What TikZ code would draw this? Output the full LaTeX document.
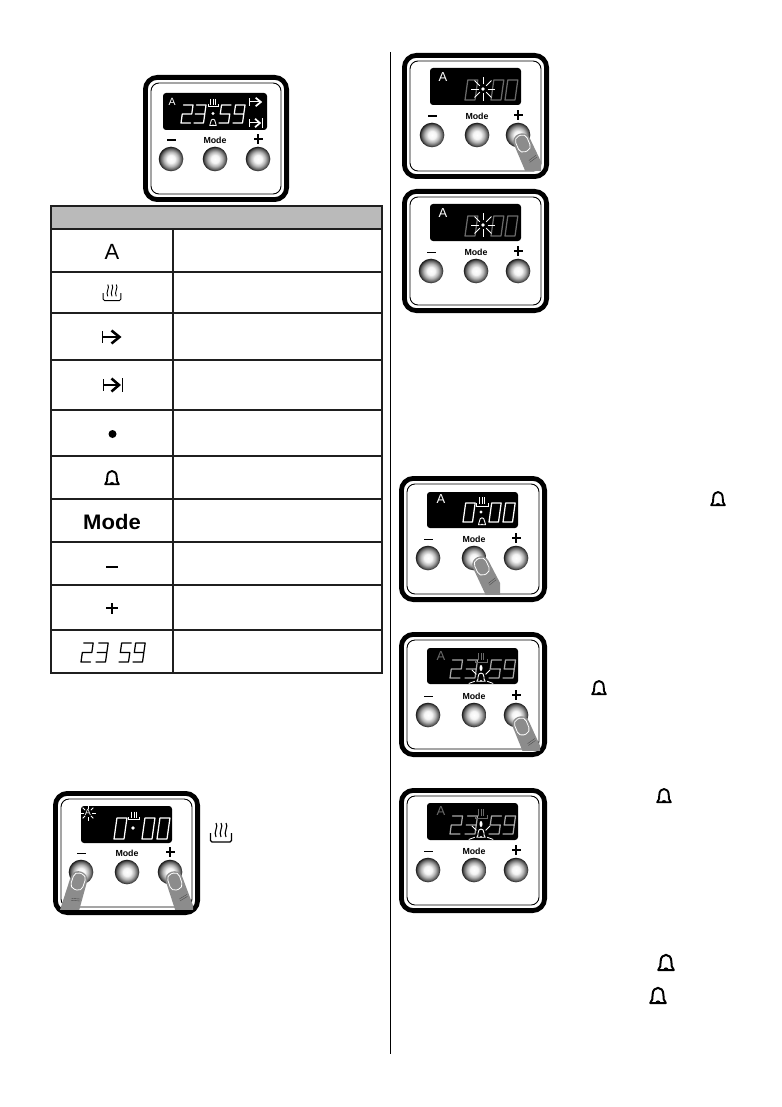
\documentclass[tikz,border=0pt]{standalone}
\usepackage{fontspec}
\setmainfont{Liberation Sans}
\pgfdeclareradialshading{btnshade}{\pgfpoint{0bp}{0bp}}{color(0bp)=(white); color(8bp)=(white!96!black); color(15bp)=(black!30); color(21bp)=(black!62); color(25bp)=(black!90); color(50bp)=(black!90)}
\definecolor{fingergray}{HTML}{8C8C8C}
\definecolor{dimseg}{HTML}{6A6A6A}
\definecolor{midseg}{HTML}{A8A8A8}
\tikzset{
  x=1pt,y=-1pt,
  outerframe/.style={draw=black,line width=4.8pt,rounded corners=12pt,fill=white},
  innerframe/.style={draw=black,line width=0.9pt,rounded corners=8pt},
  lcd/.style={fill=black,rounded corners=3pt},
  btnkey/.style={shading=btnshade},
  seg/.style={line width=1.25pt,line join=round,line cap=round},
  rule/.style={draw=black!88,line width=1.2pt},
  ray/.style={draw=white,line width=0.8pt},
}
% digit: [colour]{x}{y bottom}{w}{h}{digit}
\newcommand\dg[6][white]{%
  \ifcase#6 \def\dgp{(0,0)--(1,0)--(1,1)--(0,1)--cycle}\or\or
  \def\dgp{(0,1)--(1,1)--(1,.5)--(0,.5)--(0,0)--(1,0)}\or
  \def\dgp{(0,1)--(1,1)--(1,0)--(0,0) (0,.5)--(1,.5)}\or\or
  \def\dgp{(1,1)--(0,1)--(0,.5)--(1,.5)--(1,0)--(0,0)}\or\or\or\or
  \def\dgp{(1,.5)--(0,.5)--(0,1)--(1,1)--(1,0)--(0,0)}\fi
  \draw[seg,draw=#1,shift={(#2,#3)},x={(#4pt,0pt)},y={(#5*0.14pt,#5pt)}] \dgp;}
% bell: {x}{y}{scale}{colour}{line width}
\newcommand\bellicon[5]{%
  \begin{scope}[shift={(#1,#2)},scale=#3]
  \draw[#4,line width=#5pt,line join=round] (-6.5,5) .. controls (-4.5,3) and (-4.5,1) .. (-4.5,-2) .. controls (-4.5,-9.5) and (4.5,-9.5) .. (4.5,-2) .. controls (4.5,1) and (4.5,3) .. (6.5,5) -- cycle;
  \fill[#4] (-2.2,5) arc[start angle=180,end angle=360,radius=2.2];
  \end{scope}}
% heating symbol, wavy: {x}{y}{scale}{line width}
\newcommand\heatwave[4]{%
  \begin{scope}[shift={(#1,#2)},scale=#3,line width=#4pt]
  \draw[rounded corners=1.5pt] (-10.5,0) -- (-10.5,9) -- (10.5,9) -- (10.5,0);
  \foreach \wx in {-5,0,5}{\draw (\wx,-10) .. controls (\wx+3,-6.5) and (\wx-3,-1) .. (\wx,4);}
  \end{scope}}
% heating symbol on a display: {x}{y}{scale}{colour}
\newcommand\heatbars[4]{%
  \begin{scope}[shift={(#1,#2)},scale=#3,#4,line width=0.8pt]
  \draw (-6,0) -- (-6,3) -- (6,3) -- (6,0);
  \foreach \wx in {-2.5,0,2.5}{\draw (\wx,-6) -- (\wx,1);}
  \end{scope}}
% arrows: {x}{y}{scale}{colour}{line width}
\newcommand\arrowbegin[5]{%
  \begin{scope}[shift={(#1,#2)},scale=#3,#4,line width=#5pt]
  \draw (-9.5,-6) -- (-9.5,6);
  \draw (-9.5,0) -- (6,0);
  \draw[line width=1.7*#5pt,miter limit=3] (-0.5,-6.5) -- (7.5,0) -- (-0.5,6.5);
  \end{scope}}
\newcommand\arrowstop[5]{%
  \begin{scope}[shift={(#1,#2)},scale=#3,#4,line width=#5pt]
  \draw (-9.5,-6) -- (-9.5,6);
  \draw (-9.5,0) -- (6,0);
  \draw[line width=1.7*#5pt] (-1.5,-6.5) -- (6,0) -- (-1.5,6.5);
  \draw (9.5,-7) -- (9.5,7);
  \end{scope}}
% control panel parts
\newcommand\frameparts[4]{%
  \draw[outerframe] (#1+2.4,#2+2.4) rectangle (#3-2.4,#4-2.4);
  \draw[innerframe] (#1+8,#2+8) rectangle (#3-8,#4-8);}
\newcommand\lcdbox[4]{\fill[lcd] (#1,#2) rectangle (#3,#4);}
\newcommand\keys[4]{%
  \foreach \kx in {#1,#2,#3}{\shade[btnkey] (\kx,#4) circle[radius=12.3];}
  \node[font=\bfseries\fontsize{8.8}{9}\selectfont,inner sep=0pt] at (#2,#4-19) {Mode};
  \fill (#1-4.5,#4-19.5) rectangle (#1+4.5,#4-17.8);
  \fill (#3-4.5,#4-21) rectangle (#3+4.5,#4-19.2);
  \fill (#3-0.9,#4-24.8) rectangle (#3+0.9,#4-15.4);}
\newcommand\letterA[4]{\node[text=#4,inner sep=0pt,font=\fontsize{#3}{#3}\selectfont] at (#1,#2) {A};}
% fingertip pressing: {nail x}{nail y}{rotation}{bottom of clip}
\newcommand\finger[4]{%
  \begin{scope}
  \clip (#1-18,#2-40) rectangle (#1+18,#4);
  \begin{scope}[shift={(#1,#2)},rotate=#3]
  \fill[fingergray] (-8.5,-3) .. controls (-8.5,-13.5) and (8,-13.5) .. (8.5,-3) -- (10.5,42) -- (-8.5,42) -- cycle;
  \draw[white,line width=0.8pt,fill=fingergray,rounded corners=5pt] (-6.2,-9) rectangle (6.2,8);
  \draw[black!70,line width=0.4pt] (-1,17.5) -- (7.5,15.5) (-1,19.5) -- (7.5,17.5);
  \end{scope}
  \end{scope}}
\newcommand\rays[5]{\foreach \ra in {#5}{\draw[ray] (#1,#2)+(\ra:#3) -- +(\ra:#4);}}
\begin{document}
\begin{tikzpicture}
\useasboundingbox (0,0) rectangle (781,1107);
\fill[white] (0,0) rectangle (781,1107);
% divider
\draw[black,line width=1pt] (390.5,52) -- (390.5,1054);
% ---------- panel 1
\frameparts{143}{75}{289}{202}
\lcdbox{163}{93}{267}{130}
\keys{171}{215}{258}{159}
\letterA{172}{102}{10.5}{white}
\dg{181}{123}{9.5}{18}{2}\dg{194}{123}{9.5}{18}{3}
\dg{219}{123}{9.5}{18}{5}\dg{233}{123}{9.5}{18}{9}
\heatbars{213}{104}{0.85}{white}
\fill[white] (213,113.5) circle[radius=1.6];
\bellicon{213}{123}{0.5}{white}{0.8}
\arrowbegin{256}{102}{0.65}{white}{1}
\arrowstop{256}{123}{0.65}{white}{1}
% ---------- table
\fill[black!27] (51,206) rectangle (382,229);
\draw[rule] (51,206) rectangle (382,673);
\foreach \ry in {229,272,313,360,410,456,499,542,585,630}{\draw[rule] (51,\ry) -- (382,\ry);}
\draw[rule] (173,229) -- (173,673);
\letterA{112}{252}{22}{black}
\heatwave{112}{293}{0.85}{0.9}
\arrowbegin{112}{337}{1}{black}{1.5}
\arrowstop{113}{385}{1}{black}{1.5}
\fill (112.5,434) circle[radius=4];
\bellicon{112}{479}{1.05}{black}{1.9}
\node[inner sep=0pt,font=\bfseries\fontsize{21}{22}\selectfont,xscale=1.05] at (112,521.5) {Mode};
\fill (106,566) rectangle (118,568.2);
\fill (106,607) rectangle (118,609.4);
\fill (110.8,602.5) rectangle (113.2,614);
\dg[black]{81}{662}{9.5}{19}{2}\dg[black]{96}{662}{9.5}{19}{3}
\dg[black]{119}{662}{9.5}{19}{5}\dg[black]{133}{662}{9.5}{19}{9}
% ---------- panel 7 (bottom left)
\frameparts{53}{791}{200}{915}
\lcdbox{81}{806}{172}{843}
\keys{81}{127}{170}{872}
\finger{78}{882}{-18}{909}
\finger{175}{882}{18}{909}
\letterA{88}{812.5}{9}{white}
\rays{88}{813}{4}{7.5}{0,45,90,135,180,225,270,315}
\dg{114}{839}{10}{21}{0}
\dg{142}{839}{10}{21}{0}\dg{157}{839}{10}{21}{0}
\heatbars{134}{817}{0.9}{white}
\fill[white] (133,828) circle[radius=1.8];
\heatwave{221}{833}{1}{1.1}
% ---------- panel 2
\frameparts{402}{53}{549}{179}
\lcdbox{430}{68}{521}{105}
\keys{432}{477}{518}{135}
\finger{523}{144}{23}{171}
\letterA{443}{77}{13}{white}
\dg[dimseg]{465}{100}{10}{20}{0}
\dg[dimseg]{491}{100}{10}{20}{0}\dg[dimseg]{505}{100}{10}{20}{0}
\rays{483}{89}{4.5}{12}{0,45,90,135,180,225,270,315}
\fill[white] (483,89) circle[radius=1.8];
% ---------- panel 3
\frameparts{402}{189}{549}{313}
\lcdbox{430}{204}{521}{241}
\keys{431}{476}{518}{271}
\letterA{443}{213}{13}{white}
\dg[dimseg]{465}{236}{10}{20}{0}
\dg[dimseg]{491}{236}{10}{20}{0}\dg[dimseg]{505}{236}{10}{20}{0}
\rays{483}{225}{4.5}{12}{0,45,90,135,180,225,270,315}
\fill[white] (483,225) circle[radius=1.8];
% ---------- panel 4
\frameparts{399}{476}{547}{602}
\lcdbox{427}{492}{518}{528}
\keys{428}{474}{516}{558}
\finger{482}{567}{25}{594}
\letterA{441}{499.5}{13}{white}
\dg{463}{522}{9.5}{19}{0}
\dg{489}{522}{9.5}{19}{0}\dg{503}{522}{9.5}{19}{0}
\heatbars{482}{503}{1}{white}
\fill[white] (481,512) circle[radius=1.7];
\bellicon{482}{522}{0.55}{white}{0.9}
\bellicon{718}{500}{1.05}{black}{1.9}
% ---------- panel 5
\frameparts{399}{632}{547}{757}
\lcdbox{427}{648}{518}{684}
\keys{428}{474}{516}{715}
\finger{522}{727}{22}{750}
\letterA{441}{656}{13}{dimseg}
\dg[midseg]{450}{678}{10}{18}{2}\dg[midseg]{465}{678}{10}{18}{3}
\dg[midseg]{489}{678}{10}{18}{5}\dg[midseg]{503}{678}{10}{18}{9}
\heatbars{481}{659}{1}{dimseg}
\fill[white] (481,668) ellipse[x radius=1.5,y radius=3];
\begin{scope}
\clip (427,648) rectangle (518,684);
\rays{481}{679}{6.5}{13}{225,315,160,20}
\bellicon{481}{678}{0.65}{white}{0.9}
\end{scope}
\bellicon{599}{689}{1.05}{black}{1.9}
% ---------- panel 6
\frameparts{399}{788}{547}{913}
\lcdbox{427}{803}{518}{840}
\keys{428}{474}{516}{870}
\letterA{441}{811}{13}{dimseg}
\dg[midseg]{450}{834}{10}{18}{2}\dg[midseg]{465}{834}{10}{18}{3}
\dg[midseg]{489}{834}{10}{18}{5}\dg[midseg]{503}{834}{10}{18}{9}
\heatbars{481}{815}{1}{dimseg}
\fill[white] (481,824) ellipse[x radius=1.5,y radius=3];
\begin{scope}
\clip (427,803) rectangle (518,840);
\rays{481}{835}{6.5}{13}{225,315,160,20}
\bellicon{481}{834}{0.65}{white}{0.9}
\end{scope}
\bellicon{664}{797}{1.05}{black}{1.9}
\bellicon{666}{964}{1.2}{black}{2}
\bellicon{658}{997}{1.2}{black}{2}
\end{tikzpicture}
\end{document}
